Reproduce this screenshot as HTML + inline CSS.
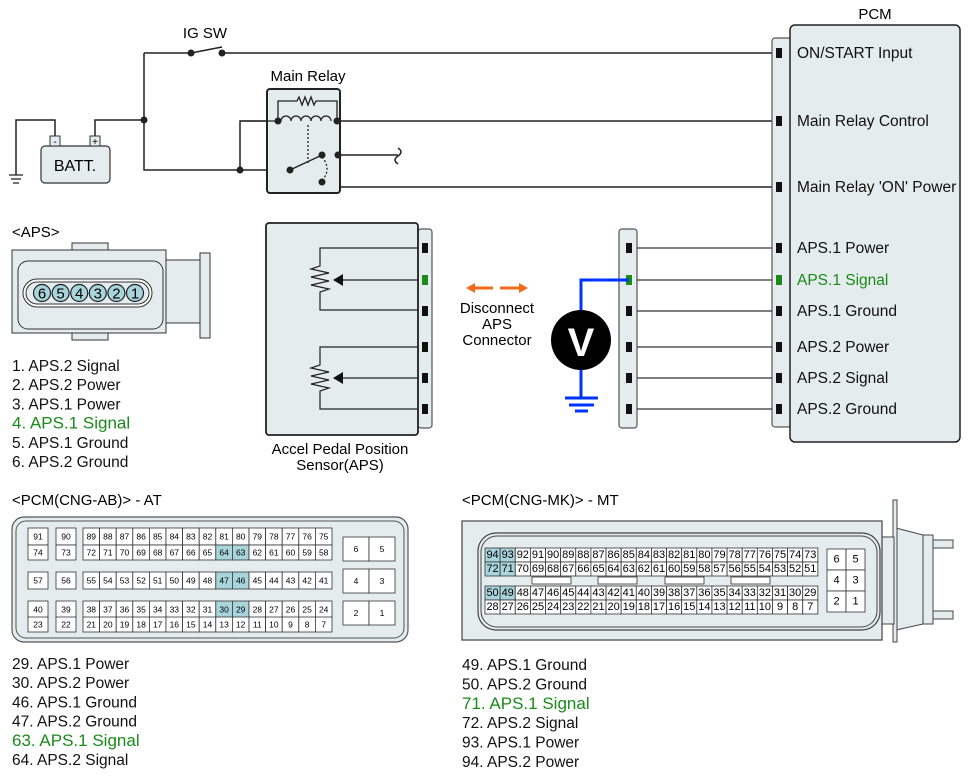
<!DOCTYPE html>
<html><head><meta charset="utf-8"><style>
body{margin:0;background:#fff;width:971px;height:779px;overflow:hidden}
svg{font-family:"Liberation Sans",Arial,sans-serif}
</style></head><body>
<svg id="s" width="971" height="779" viewBox="0 0 971 779" xmlns="http://www.w3.org/2000/svg">
<g fill="none" stroke="#222" stroke-width="1.5">
<path d="M144 53H191M222 53H772"/>
<path d="M191 53L222 47"/>
<path d="M144 53V170H290"/>
<path d="M95 138V120H144"/>
<path d="M55 138V120H16V175"/>
<path d="M240 170V121H278"/>
<path d="M337 121H772"/>
<path d="M338 155H398"/>
<path d="M398 148q6 4 0 8t0 8" />
<path d="M338 155V187H772"/>
</g>
<g stroke="#222" stroke-width="1.2"><path d="M9 175H23M11 179H21M13 183H19"/></g>
<g fill="#222"><circle cx="191" cy="53" r="3.5"/><circle cx="222" cy="53" r="3.5"/><circle cx="144" cy="120" r="3.5"/><circle cx="240" cy="170" r="3.5"/></g>
<text x="205" y="38" font-size="15" text-anchor="middle">IG SW</text>
<rect x="41" y="146" width="69" height="37" rx="4" fill="#e4ecee" stroke="#333" stroke-width="1.2"/>
<rect x="50" y="136" width="10" height="10" fill="#e4ecee" stroke="#333"/><rect x="90" y="136" width="10" height="10" fill="#e4ecee" stroke="#333"/>
<text x="55" y="145" font-size="10" text-anchor="middle">-</text><text x="95" y="145" font-size="10" text-anchor="middle">+</text>
<text x="75" y="171" font-size="16" text-anchor="middle">BATT.</text>
<text x="308" y="81" font-size="15" text-anchor="middle">Main Relay</text>
<rect x="267" y="89" width="73" height="104" rx="3" fill="#e4ecee" stroke="#222" stroke-width="2"/>
<g fill="none" stroke="#222" stroke-width="1.3">
<path d="M240 121H278M337 121H340"/>
<path d="M278 121V101H297l2-4 3 8 3-8 3 8 3-8 3 8 2-4H337V121"/>
<path d="M281 121a5 5 0 0 1 10 0a5 5 0 0 1 10 0a5 5 0 0 1 10 0a5 5 0 0 1 10 0a5 5 0 0 1 10 0"/>
<path d="M308 125V163" stroke-dasharray="2 2"/>
<path d="M290 170L322 155"/>
<path d="M322 157q10 12 0 24" stroke-dasharray="2 2"/>
</g>
<g fill="#222"><circle cx="278" cy="121" r="3.5"/><circle cx="337" cy="121" r="3.5"/><circle cx="290" cy="170" r="3.5"/><circle cx="322" cy="155" r="3.5"/><circle cx="338" cy="155" r="3.5"/><circle cx="322" cy="182" r="3.5"/></g>
<text x="875" y="19" font-size="15" text-anchor="middle">PCM</text>
<rect x="772" y="38" width="25" height="389" rx="3" fill="#e4ecee" stroke="#555" stroke-width="1.2"/>
<rect x="790" y="25" width="170" height="417" rx="5" fill="#e4ecee" stroke="#222" stroke-width="1.5"/>
<g id="pcmtext" font-size="15.5"></g>
<rect x="418" y="229" width="14" height="199" rx="3" fill="#e4ecee" stroke="#555" stroke-width="1.2"/>
<rect x="266" y="223" width="152" height="212" rx="3" fill="#e4ecee" stroke="#222" stroke-width="1.8"/>
<g fill="none" stroke="#222" stroke-width="1.2">
<path d="M418 248H320V266l-9 3 18 4-18 4 18 4-18 4 18 4-9 3V310H418"/>
<path d="M418 280H338"/>
<path d="M418 347H320V365l-9 3 18 4-18 4 18 4-18 4 18 4-9 3V409H418"/>
<path d="M418 378H338"/>
</g>
<path d="M333 280l10-6v12z M333 378l10-6v12z" fill="#111"/>
<text x="340" y="454" font-size="15" text-anchor="middle">Accel Pedal Position</text>
<text x="340" y="470" font-size="15" text-anchor="middle">Sensor(APS)</text>
<rect x="619" y="229" width="18" height="199" rx="3" fill="#e4ecee" stroke="#555" stroke-width="1.2"/>
<g id="wires" stroke="#333" stroke-width="1.3"></g>
<path d="M471 288H493M523 288H500" stroke="#f26a1b" stroke-width="3"/>
<path d="M466 288l9-5v10z M528 288l-9-5v10z" fill="#f26a1b"/>
<text x="497" y="313" font-size="15" text-anchor="middle">Disconnect</text>
<text x="497" y="329" font-size="15" text-anchor="middle">APS</text>
<text x="497" y="345" font-size="15" text-anchor="middle">Connector</text>
<path d="M629 280H581V398M565 398H598M569 405H594M575 411H588" fill="none" stroke="#0033ff" stroke-width="3"/>
<circle cx="581" cy="340" r="30" fill="#000"/>
<text x="581" y="356" font-size="40" font-weight="bold" fill="#fff" text-anchor="middle">V</text>
<text x="12" y="237" font-size="15">&lt;APS&gt;</text>
<rect x="72" y="243" width="36" height="97" fill="#e4ecee" stroke="#333"/>
<rect x="165" y="260" width="36" height="63" fill="#e4ecee" stroke="#333"/>
<rect x="200" y="253" width="10" height="85" fill="#e4ecee" stroke="#333"/>
<rect x="12" y="250" width="154" height="83" fill="#e4ecee" stroke="#333"/>
<rect x="18" y="261" width="145" height="68" rx="10" fill="#e4ecee" stroke="#333"/>
<rect x="23" y="279" width="129" height="28" rx="14" fill="#fff" stroke="#333"/>
<rect x="26" y="282" width="123" height="22" rx="11" fill="#e4ecee" stroke="#333"/>
<g id="apspins"></g>
<g id="apslist"></g>
<text x="12" y="505" font-size="15">&lt;PCM(CNG-AB)&gt; - AT</text>
<rect x="12" y="517" width="396" height="125" rx="12" fill="#e4ecee" stroke="#555" stroke-width="1.2"/>
<rect x="16" y="521" width="388" height="117" rx="10" fill="none" stroke="#555"/>
<g id="ab" font-size="8.5"></g>
<text x="462" y="505" font-size="15">&lt;PCM(CNG-MK)&gt; - MT</text>
<g fill="#e4ecee" stroke="#444" stroke-width="1">
<path d="M896 528L923 535V624L896 630Z"/>
<rect x="923" y="535" width="10" height="89"/>
<rect x="933" y="540" width="20" height="8"/><rect x="933" y="611" width="20" height="8"/>
<rect x="893" y="500" width="4" height="142"/>
<rect x="880" y="537" width="14" height="87"/>
</g>
<rect x="462" y="521" width="420" height="119" fill="#e4ecee" stroke="#444" stroke-width="1.2"/>
<rect x="478" y="533" width="402" height="97" rx="18" fill="none" stroke="#444" stroke-width="1.2"/>
<rect x="481" y="536" width="396" height="91" rx="16" fill="none" stroke="#444"/>
<g id="mk" font-size="11"></g>
<g id="lists"></g>
</svg>
<script>
const NS="http://www.w3.org/2000/svg";
function el(p,t,a,txt){const e=document.createElementNS(NS,t);for(const k in a)e.setAttribute(k,a[k]);if(txt!==undefined)e.textContent=txt;document.getElementById(p).appendChild(e);return e;}
const G="#1a8a1a";
[["ON/START Input",53],["Main Relay Control",121],["Main Relay 'ON' Power",187],["APS.1 Power",248],["APS.1 Signal",280,1],["APS.1 Ground",311],["APS.2 Power",347],["APS.2 Signal",378],["APS.2 Ground",409]].forEach(r=>{
 el("pcmtext","text",{x:797,y:r[1]+5,fill:r[2]?G:"#111"},r[0]);
 el("pcmtext","rect",{x:776,y:r[1]-5,width:6,height:10,fill:r[2]?G:"#111"});
});
[248,280,311,347,378,409].forEach((y,i)=>{
 el("wires","line",{x1:637,y1:y,x2:772,y2:y});
 const c=i==1?G:"#111";
 el("wires","rect",{x:626,y:y-5,width:6,height:10,fill:c,stroke:"none"});
 el("wires","rect",{x:422,y:y-5,width:6,height:10,fill:c,stroke:"none"});
});
[6,5,4,3,2,1].forEach((n,i)=>{const x=42+i*18.6;el("apspins","circle",{cx:x,cy:293,r:8.5,fill:"#a8d4dc",stroke:"#222","stroke-width":1.2});
 el("apspins","text",{x:x,y:298.5,"font-size":15,"text-anchor":"middle"},n);});
["1. APS.2 Signal","2. APS.2 Power","3. APS.1 Power","4. APS.1 Signal","5. APS.1 Ground","6. APS.2 Ground"].forEach((t,i)=>el("apslist","text",{x:12,y:371+i*19.2,fill:i==3?G:"#111","font-size":i==3?17:15.5},t));
["29. APS.1 Power","30. APS.2 Power","46. APS.1 Ground","47. APS.2 Ground","63. APS.1 Signal","64. APS.2 Signal"].forEach((t,i)=>el("lists","text",{x:12,y:669+i*19.2,fill:i==4?G:"#111","font-size":i==4?17:15.5},t));
["49. APS.1 Ground","50. APS.2 Ground","71. APS.1 Signal","72. APS.2 Signal","93. APS.1 Power","94. APS.2 Power"].forEach((t,i)=>el("lists","text",{x:462,y:670+i*19.4,fill:i==2?G:"#111","font-size":i==2?17:15.5},t));
function cell(p,x,y,w,h,t,hl){el(p,"rect",{x:x,y:y,width:w,height:h,fill:hl?"#a8d4dc":"#fff",stroke:"#333","stroke-width":0.8});
 el(p,"text",{x:x+w/2,y:y+h/2+3.2,"text-anchor":"middle"},t);}
const HL=new Set([64,63,47,46,30,29]);
const rowsAB=[[528,[91,90],75,89],[545,[74,73],58,72],[572,[57,56],41,55],[601,[40,39],24,38],[617,[23,22],7,21]];
rowsAB.forEach(r=>{const y=r[0],h=(y==528||y==601)?17:(y==572?17:15);
 cell("ab",28,y,20,h,r[1][0]);cell("ab",56,y,20,h,r[1][1]);
 for(let i=0;i<15;i++){const n=r[3]-i;cell("ab",83+i*16.6,y,16.6,h,n,HL.has(n));}
});
[[537,6,5],[569,4,3],[601,2,1]].forEach(r=>{cell("ab",343,r[0],26,24,r[1]);cell("ab",369,r[0],26,24,r[2]);});
const HM=new Set([94,93,72,71,50,49]);
[[548,94],[562,72],[586,50],[600,28]].forEach(r=>{
 for(let i=0;i<22;i++){const n=r[1]-i;cell("mk",485+i*15.13,r[0],15.13,14,n,HM.has(n));}
});
[532,598,665,731].forEach(x=>el("mk","rect",{x:x,y:577,width:39,height:7,fill:"#fff",stroke:"#333","stroke-width":0.8}));
[[549,6,5],[570,4,3],[591,2,1]].forEach(r=>{cell("mk",827,r[0],19,21,r[1]);cell("mk",846,r[0],19,21,r[2]);});
</script>
</body></html>
